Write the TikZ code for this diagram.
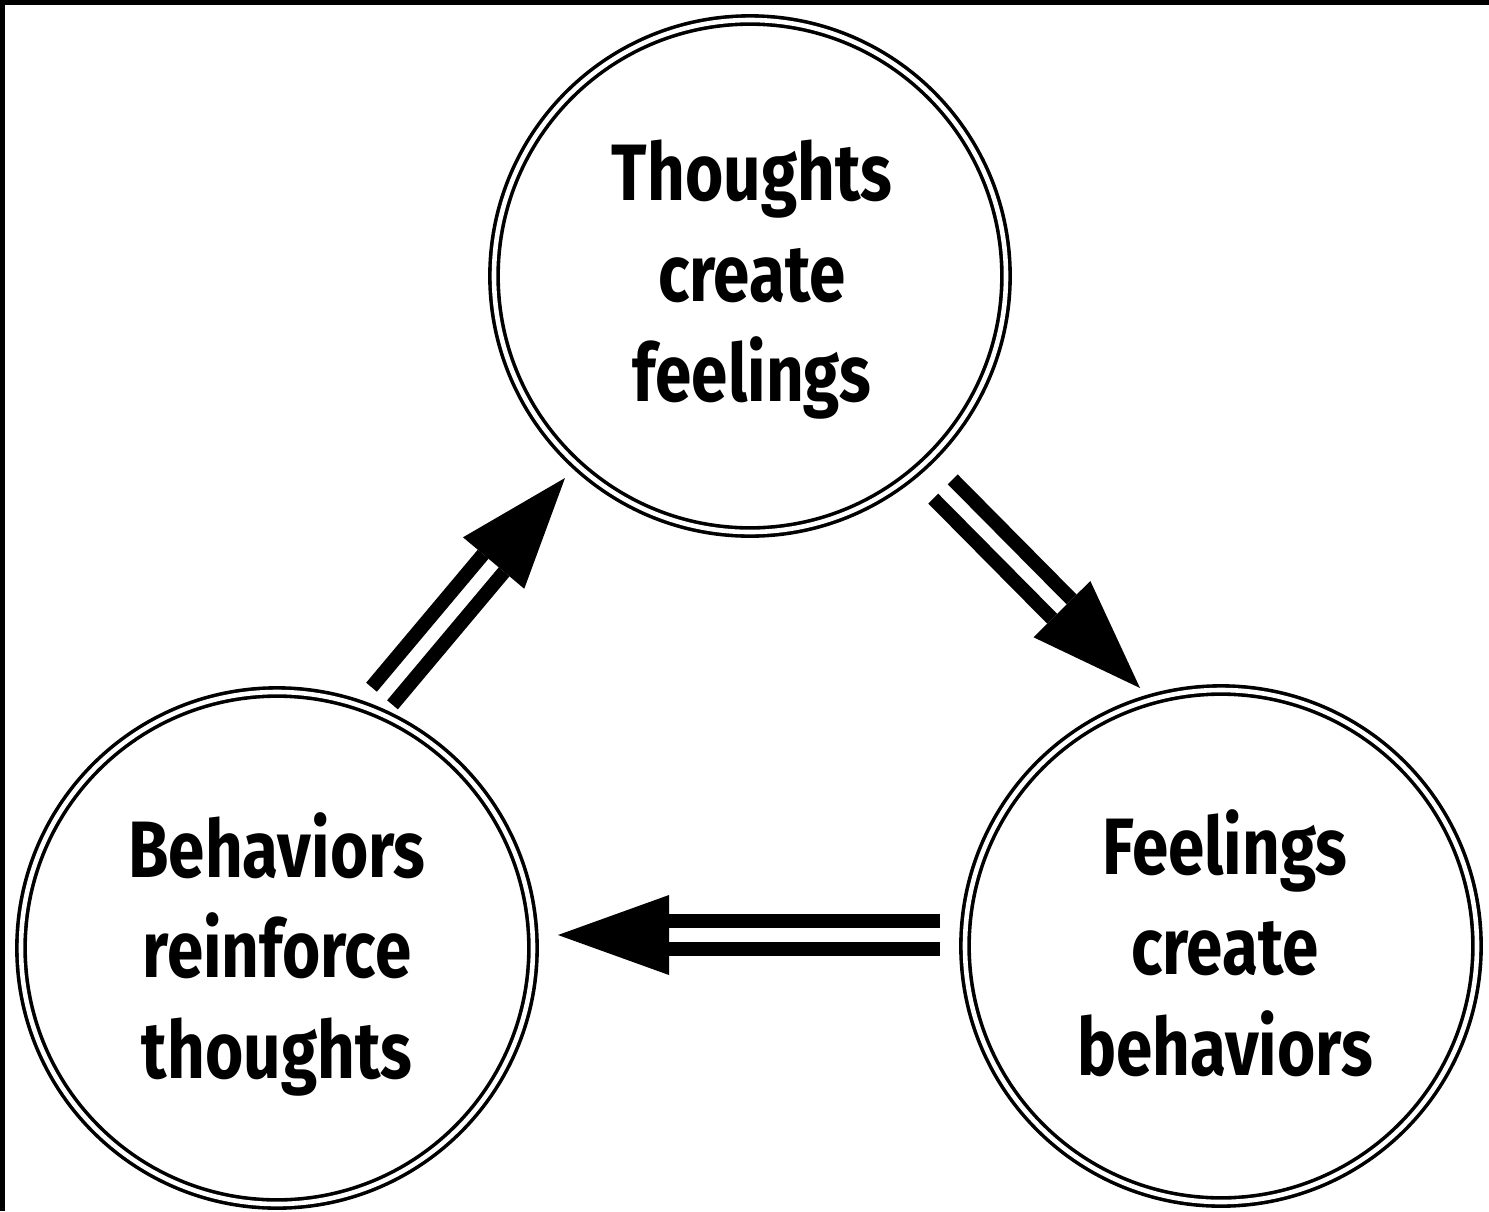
\documentclass[tikz,border=0pt]{standalone}
\usepackage{fontspec}
\setmainfont{Fira Sans}[FakeStretch=0.82]
\usetikzlibrary{calc}
\tikzset{
  ring/.style={circle, draw=black, line width=3.6pt, double=white, double distance=4.6pt, minimum size=512pt, inner sep=0pt},
  label text/.style={align=center, font=\fontsize{80}{100.5}\selectfont\bfseries, inner sep=0pt},
  shaft/.style={line width=14pt, line cap=butt},
  head/.style={fill=black, draw=none}
}
\newcommand{\dblarrow}[2]{%
  \coordinate (ab) at ($(#2)!111pt!(#1)$);
  \draw[shaft] ($(#1)!13.7pt!90:(#2)$) -- ($(ab)!13.7pt!-90:(#1)$);
  \draw[shaft] ($(#1)!13.7pt!-90:(#2)$) -- ($(ab)!13.7pt!90:(#1)$);
  \fill[head] (#2) -- ($(ab)!40pt!90:(#1)$) -- ($(ab)!40pt!-90:(#1)$) -- cycle;
}
\begin{document}
\begin{tikzpicture}[x=1pt,y=-1pt]
\useasboundingbox (0,0) rectangle (1489,1211);
\fill[black] (0,0) rectangle (1489,5);
\fill[black] (0,0) rectangle (5,1211);

\node[ring] (top) at (750,276) {};
\node[ring] (left) at (277,948) {};
\node[ring] (right) at (1221,946) {};

\node[label text] (ttop) at ($(top)+(2,4)$) {Thoughts\\create\\feelings};
\node[label text] (tleft) at ($(left)+(0,6)$) {Behaviors\\reinforce\\thoughts};
\node[label text] (tright) at ($(right)+(4,-3)$) {Feelings\\create\\behaviors};

\coordinate (s1) at (943,489);
\coordinate (e1) at (1140,688);
\coordinate (s2) at (940,935);
\coordinate (e2) at (558,935);
\coordinate (s3) at (382,696);
\coordinate (e3) at (565,478);
\dblarrow{s1}{e1}
\dblarrow{s2}{e2}
\dblarrow{s3}{e3}
\end{tikzpicture}
\end{document}
